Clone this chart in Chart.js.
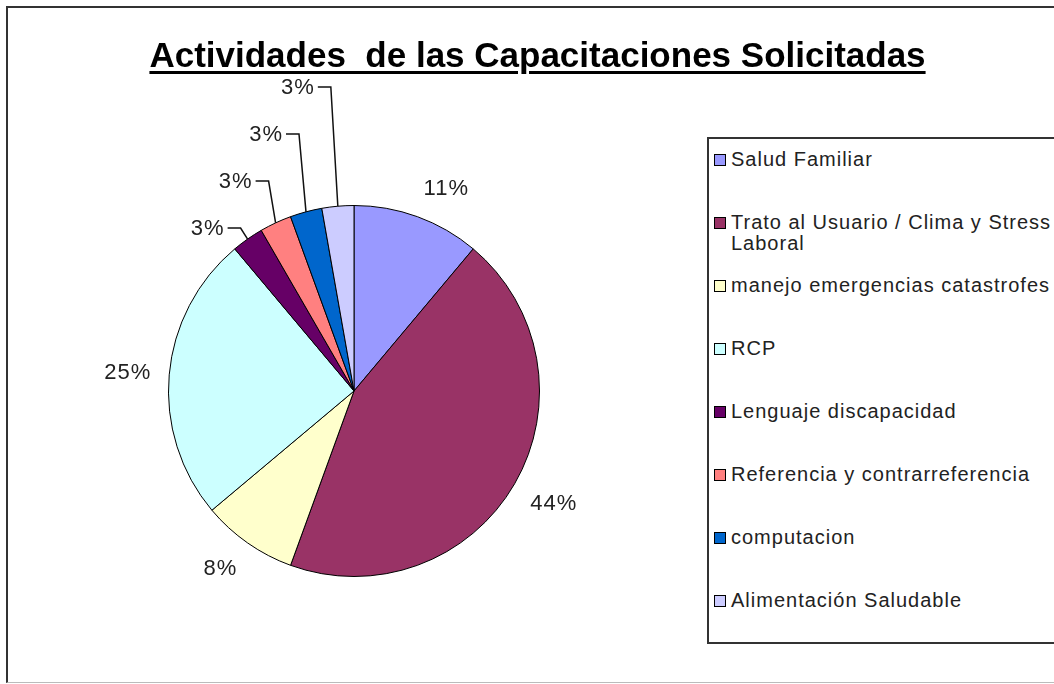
<!DOCTYPE html>
<html>
<head>
<meta charset="utf-8">
<script src="https://cdn.jsdelivr.net/npm/chart.js@4/dist/chart.umd.min.js"></script>
<style>
  html, body { margin: 0; padding: 0; background: #fff; overflow: hidden; }
  body { width: 1054px; height: 684px; position: relative; font-family: "Liberation Sans", Arial, sans-serif; }
  #frame { position: absolute; left: 6px; top: 6px; width: 1100px; height: 674px;
           border-left: 2px solid #333; border-top: 2px solid #333; border-bottom: 1px solid #bbb; }
  #pie { position: absolute; left: 0; top: 0; }
  #title { position: absolute; left: 0; width: 1075px; top: 37px; text-align: center;
           font-weight: bold; font-size: 35px; line-height: 1; color: #000; white-space: pre;
           text-decoration: underline; text-decoration-thickness: 3px; text-underline-offset: 4px; }
  #legend { position: absolute; left: 707px; top: 137px; width: 420px; height: 503px;
            border: 2px solid #333; background: #fff; }
  .item { position: absolute; left: 5px; height: 63px; font-size: 20px; line-height: 21px;
          letter-spacing: 1px; color: #222; }
  .sw { position: absolute; left: 0; top: 5px; width: 10px; height: 10px; border: 1px solid #000; }
  .txt { position: absolute; left: 17px; top: 0; width: 332px; }
</style>
</head>
<body>
<div id="frame"></div>
<canvas id="pie" width="1054" height="684"></canvas>
<div id="title">Actividades  de las Capacitaciones Solicitadas</div>
<div id="legend"></div>
<script>
// ---------------------- data ----------------------
const categories = [
  'Salud Familiar',
  'Trato al Usuario / Clima y Stress Laboral',
  'manejo emergencias catastrofes',
  'RCP',
  'Lenguaje discapacidad',
  'Referencia y contrarreferencia',
  'computacion',
  'Alimentación Saludable'
]
const counts = [4, 16, 3, 9, 1, 1, 1, 1]

// ---------------------- style ---------------------
const sliceColors = ['#9999FF', '#993366', '#FFFFCC', '#CCFFFF', '#660066', '#FF8080', '#0066CC', '#CCCCFF']

// ---------------------- legend --------------------
const legend = document.getElementById('legend')
categories.forEach((name, i) => {
  const item = document.createElement('div')
  item.className = 'item'
  item.style.top = (10 + 63 * i) + 'px'
  const sw = document.createElement('div')
  sw.className = 'sw'
  sw.style.background = sliceColors[i]
  const txt = document.createElement('div')
  txt.className = 'txt'
  txt.textContent = name
  item.append(sw, txt)
  legend.append(item)
})

// ---------------------- labels plugin -------------
const pieLabels = {
  id: 'pieLabels',
  afterDatasetsDraw(chart) {
    const ctx = chart.ctx
    const meta = chart.getDatasetMeta(0)
    const total = counts.reduce((a, b) => a + b, 0)
    ctx.save()
    ctx.font = '22px "Liberation Sans", Arial, sans-serif'
    ctx.fillStyle = '#222'
    ctx.strokeStyle = '#111'
    ctx.lineWidth = 1.5
    ctx.letterSpacing = '1px'
    let prevY = Infinity
    meta.data.forEach((arc, i) => {
      const p = arc.getProps(['x', 'y', 'startAngle', 'endAngle', 'outerRadius'], true)
      const a = (p.startAngle + p.endAngle) / 2
      const cos = Math.cos(a), sin = Math.sin(a)
      const pct = Math.round(counts[i] / total * 100)
      const txt = pct + '%'
      if (pct >= 5) {
        const R = p.outerRadius + 18
        const x = p.x + R * cos, y = p.y + R * sin
        ctx.textAlign = cos > 0.3 ? 'left' : (cos < -0.3 ? 'right' : 'center')
        ctx.textBaseline = sin > 0.3 ? 'top' : (sin < -0.3 ? 'bottom' : 'middle')
        ctx.fillText(txt, x, y)
      } else {
        // leader line for the thin slices, stacked upwards
        const ex = p.x + p.outerRadius * cos, ey = p.y + p.outerRadius * sin
        const ly = Math.min(ey - 11, prevY - 47)
        prevY = ly
        const bx = ex - 7
        const lx = bx - 13
        ctx.beginPath()
        ctx.moveTo(ex, ey)
        ctx.lineTo(bx, ly)
        ctx.lineTo(lx, ly)
        ctx.stroke()
        ctx.textAlign = 'right'
        ctx.textBaseline = 'middle'
        ctx.fillText(txt, lx - 3, ly + 1)
      }
    })
    ctx.restore()
  }
}

// ---------------------- chart ---------------------
new Chart(document.getElementById('pie'), {
  type: 'pie',
  data: {
    labels: categories,
    datasets: [{
      data: counts,
      backgroundColor: sliceColors,
      borderColor: '#000',
      borderWidth: 1
    }]
  },
  options: {
    responsive: false,
    animation: false,
    devicePixelRatio: 1,
    layout: { padding: { left: 168, top: 205, right: 514, bottom: 107 } },
    plugins: { legend: { display: false }, tooltip: { enabled: false } }
  },
  plugins: [pieLabels]
})
</script>
</body>
</html>
